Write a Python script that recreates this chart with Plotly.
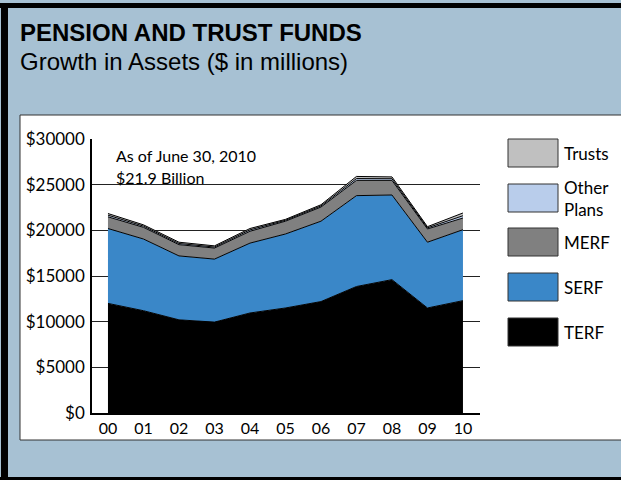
import plotly.graph_objects as go

years = ["00", "01", "02", "03", "04", "05", "06", "07", "08", "09", "10"]
x_pos = list(range(len(years)))

terf = [12000, 11200, 10200, 9950, 10950, 11500, 12200, 13850, 14600, 11500, 12300]
serf = [8200, 7850, 7000, 6900, 7650, 8100, 8800, 9950, 9270, 7200, 7770]
merf = [1280, 1280, 1230, 1210, 1300, 1400, 1550, 1670, 1600, 1450, 1280]
other_plans = [180, 130, 130, 110, 150, 100, 120, 200, 180, 120, 250]
trusts = [180, 140, 140, 130, 150, 100, 130, 230, 200, 130, 300]

y_tickvals = [0, 5000, 10000, 15000, 20000, 25000, 30000]
y_ticktext = ["$0", "$5000", "$10000", "$15000", "$20000", "$25000", "$30000"]

series = [
    ("TERF", terf, "#000000"),
    ("SERF", serf, "#3A87C8"),
    ("MERF", merf, "#808080"),
    ("Other Plans", other_plans, "#B9CDEB"),
    ("Trusts", trusts, "#C0C0C0"),
]

FONT = "Lato"
BG = "#A7C1D3"

fig = go.Figure()
for name, vals, col in series:
    fig.add_trace(go.Scatter(
        x=x_pos, y=vals, name=name, mode="lines",
        stackgroup="one", fillcolor=col,
        line=dict(color="#000000", width=1),
        showlegend=False,
    ))

# pixel -> paper helpers (plot area: x 92..480, y 139..413)
L, R, T, B = 92, 480, 139, 413
def px(x):
    return (x - L) / (R - L)
def py(y):
    return (B - y) / (B - T)

shapes = []
# white panel
shapes.append(dict(type="rect", xref="paper", yref="paper",
                   x0=px(20), x1=px(625), y0=py(440), y1=py(115),
                   fillcolor="white", line=dict(color="#333333", width=1), layer="below"))
# black frame bands
shapes.append(dict(type="rect", xref="paper", yref="paper",
                   x0=px(-5), x1=px(625), y0=py(8), y1=py(3),
                   fillcolor="black", line=dict(width=0), layer="below"))
shapes.append(dict(type="rect", xref="paper", yref="paper",
                   x0=px(1), x1=px(8), y0=py(482), y1=py(3),
                   fillcolor="black", line=dict(width=0), layer="below"))
shapes.append(dict(type="rect", xref="paper", yref="paper",
                   x0=px(-5), x1=px(625), y0=py(482), y1=py(477),
                   fillcolor="black", line=dict(width=0), layer="below"))

# legend (drawn manually)
legend_items = [
    ("Trusts", "#C0C0C0", 139),
    ("Other<br>Plans", "#B9CDEB", 184),
    ("MERF", "#808080", 228),
    ("SERF", "#3A87C8", 273),
    ("TERF", "#000000", 318),
]
annotations = []
for label, col, top in legend_items:
    shapes.append(dict(type="rect", xref="paper", yref="paper",
                       x0=px(508), x1=px(558), y0=py(top + 28), y1=py(top),
                       fillcolor=col, line=dict(color="#333333", width=1)))
    annotations.append(dict(x=px(562), y=py(top + 14), xref="paper", yref="paper",
                            text=label, showarrow=False, xanchor="left", yanchor="middle",
                            align="left",
                            font=dict(family=FONT, size=17, color="black")))

annotations.append(dict(x=px(114), y=py(155), xref="paper", yref="paper",
                        text="As of June 30, 2010", showarrow=False,
                        xanchor="left", yanchor="middle",
                        font=dict(family=FONT, size=16, color="black")))
annotations.append(dict(x=px(114), y=py(177), xref="paper", yref="paper",
                        text="$21.9 Billion", showarrow=False,
                        xanchor="left", yanchor="middle",
                        font=dict(family=FONT, size=16, color="black")))
annotations.append(dict(x=px(18), y=py(33), xref="paper", yref="paper",
                        text="<b>PENSION AND TRUST FUNDS</b>", showarrow=False,
                        xanchor="left", yanchor="middle",
                        font=dict(family="Liberation Sans", size=24, color="black")))
annotations.append(dict(x=px(18), y=py(62), xref="paper", yref="paper",
                        text="Growth in Assets ($ in millions)", showarrow=False,
                        xanchor="left", yanchor="middle",
                        font=dict(family="Liberation Sans", size=24, color="black")))

fig.update_layout(
    width=621, height=480,
    margin=dict(l=L, r=621 - R, t=T, b=480 - B, pad=0),
    paper_bgcolor=BG,
    plot_bgcolor="white",
    shapes=shapes,
    annotations=annotations,
    showlegend=False,
    xaxis=dict(
        range=[-0.45, 10.48],
        tickvals=x_pos, ticktext=years,
        showgrid=False, zeroline=False,
        showline=True, linecolor="black", linewidth=1.5,
        ticks="", tickfont=dict(family=FONT, size=16, color="black"),
    ),
    yaxis=dict(
        range=[0, 30000],
        tickvals=y_tickvals, ticktext=y_ticktext,
        showgrid=True, gridcolor="#222222", gridwidth=1,
        zeroline=False,
        showline=True, linecolor="black", linewidth=1.5,
        ticks="", ticklabelstandoff=2,
        tickfont=dict(family=FONT, size=17, color="black"),
    ),
)

fig.write_html("out.html",
               config={"displayModeBar": False},
               post_script="document.body.style.margin='0';document.body.style.overflow='hidden';")
